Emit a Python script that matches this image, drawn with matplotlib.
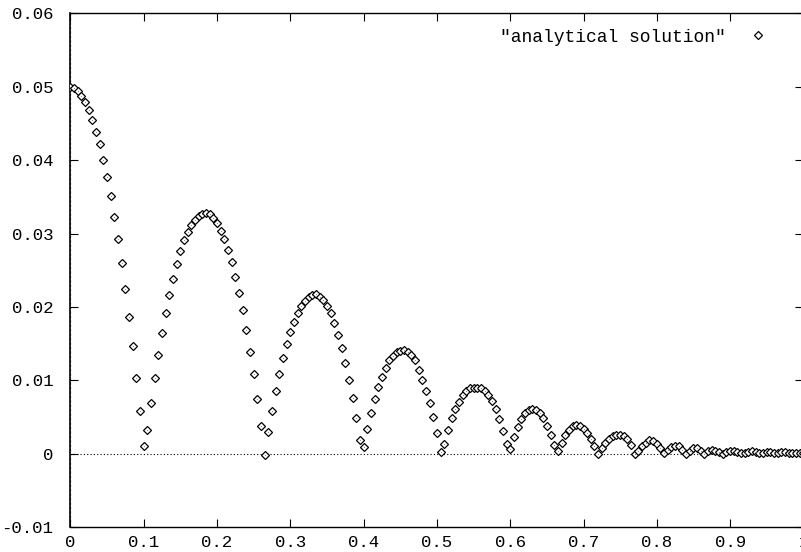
import numpy as np
import matplotlib
matplotlib.use("Agg")
import matplotlib.pyplot as plt

plt.rcParams['font.family'] = ['Liberation Mono', 'DejaVu Sans Mono']

x_start, x_end, n_points = 0.0, 1.0, 201

seg_initial = [0.0500, 0.0498, 0.0494, 0.0488, 0.0479, 0.0468, 0.0455, 0.0439,
               0.0422, 0.0400, 0.0377, 0.0351, 0.0323, 0.0293, 0.0260, 0.0225,
               0.0186, 0.0147, 0.0103, 0.0058, 0.0010]
seg_arch1 = [0.0032, 0.0069, 0.0103, 0.0135, 0.0164, 0.0191, 0.0216, 0.0238,
             0.0258, 0.0276, 0.0291, 0.0302, 0.0312, 0.0319, 0.0324, 0.0327,
             0.0328, 0.0326, 0.0321, 0.0314, 0.0304, 0.0293, 0.0278, 0.0261,
             0.0241, 0.0219, 0.0196, 0.0168, 0.0139, 0.0108, 0.0074, 0.0038,
             -0.0002]
seg_arch2 = [0.0029, 0.0058, 0.0085, 0.0109, 0.0131, 0.0150, 0.0166, 0.0180,
             0.0191, 0.0201, 0.0208, 0.0213, 0.0216, 0.0217, 0.0214, 0.0209,
             0.0201, 0.0191, 0.0178, 0.0162, 0.0144, 0.0124, 0.0101, 0.0076,
             0.0049, 0.0019, 0.0009]
seg_arch3 = [0.0033, 0.0055, 0.0074, 0.0091, 0.0105, 0.0117, 0.0127, 0.0133,
             0.0138, 0.0140, 0.0141, 0.0139, 0.0135, 0.0127, 0.0114, 0.0101,
             0.0086, 0.0069, 0.0050, 0.0028, 0.0002]
seg_arch4 = [0.0013, 0.0032, 0.0048, 0.0061, 0.0071, 0.0080, 0.0086, 0.0089,
             0.0090, 0.0090, 0.0089, 0.0085, 0.0080, 0.0072, 0.0061, 0.0047,
             0.0031, 0.0013, 0.0006]
seg_arch5 = [0.0022, 0.0036, 0.0047, 0.0055, 0.0059, 0.0061, 0.0059, 0.0055,
             0.0048, 0.0038, 0.0026, 0.0012, 0.0003]
seg_arch6 = [0.0015, 0.0025, 0.0032, 0.0037, 0.0039, 0.0038, 0.0034, 0.0028,
             0.0020, 0.0010, -0.0001]
seg_arch7 = [0.0008, 0.0015, 0.0020, 0.0024, 0.0026, 0.0026, 0.0024, 0.0020,
             0.0012, 0.0000]
seg_arch8 = [0.0004, 0.0011, 0.0015, 0.0018, 0.0017, 0.0013, 0.0007, 0.0001]
seg_arch9 = [0.0005, 0.0009, 0.0011, 0.0010, 0.0005, 0.0000]
seg_arch10 = [0.0004, 0.0007, 0.0007, 0.0004, 0.0000]
seg_arch11 = [0.0003, 0.0005, 0.0004, 0.0002, 0.0000]
seg_tail = [0.0002, 0.0003, 0.0003, 0.0002, 0.0001, 0.0001, 0.0002, 0.0003,
            0.0002, 0.0001, 0.0001, 0.0002, 0.0002, 0.0001, 0.0001, 0.0002,
            0.0002, 0.0001, 0.0001, 0.0001, 0.0001, 0.0001]

y_values = np.array(seg_initial + seg_arch1 + seg_arch2 + seg_arch3 + seg_arch4 +
                    seg_arch5 + seg_arch6 + seg_arch7 + seg_arch8 + seg_arch9 +
                    seg_arch10 + seg_arch11 + seg_tail)
x_values = np.linspace(x_start, x_end, n_points)[:len(y_values)]

series_label = '"analytical solution"'
x_ticks = [0, 0.1, 0.2, 0.3, 0.4, 0.5, 0.6, 0.7, 0.8, 0.9, 1]
x_tick_labels = ['0', '0.1', '0.2', '0.3', '0.4', '0.5', '0.6', '0.7', '0.8', '0.9', '1']
y_ticks = [-0.01, 0, 0.01, 0.02, 0.03, 0.04, 0.05, 0.06]
y_tick_labels = ['-0.01', '0', '0.01', '0.02', '0.03', '0.04', '0.05', '0.06']

# ---- figure ----
W, H = 801, 552
fig = plt.figure(figsize=(W / 100, H / 100), dpi=100)
ax = fig.add_axes([70.4 / W, 1 - 527.0 / H, (803.4 - 70.4) / W, (527.0 - 13.4) / H])

ax.set_xlim(0, 1)
ax.set_ylim(-0.01, 0.06)

# zero axes (dotted)
ax.axhline(0, color='black', lw=0.8, ls=(0, (1, 2)), zorder=1)
ax.axvline(0, color='#555555', lw=1.6, ls=(0, (1, 1)), zorder=1)

ax.plot(x_values, y_values, linestyle='none', marker='D', ms=3.9,
        mfc='white', mec='black', mew=0.9, label=series_label, zorder=3)
ax.plot(x_values, y_values, linestyle='none', marker='s', ms=0.6,
        mfc='#666666', mec='none', zorder=4)

ax.set_xticks(x_ticks)
ax.set_xticklabels(x_tick_labels)
ax.set_yticks(y_ticks)
ax.set_yticklabels(y_tick_labels)
ax.tick_params(direction='in', length=5.5, width=0.8, top=True, right=True,
               labelsize=12.5, colors='black')
ax.tick_params(axis='x', pad=5.5)
ax.tick_params(axis='y', pad=12.5)

for side in ['top', 'bottom', 'right']:
    ax.spines[side].set_linewidth(1.0)
ax.spines['left'].set_linewidth(1.2)

leg = ax.legend(loc='center right', bbox_to_anchor=(767.5 / W, 1 - 37 / H),
                bbox_transform=fig.transFigure, frameon=False, markerfirst=False,
                numpoints=1, handlelength=1.0, handletextpad=1.3, borderpad=0,
                borderaxespad=0, fontsize=13)

fig.savefig('out.png', dpi=100)
